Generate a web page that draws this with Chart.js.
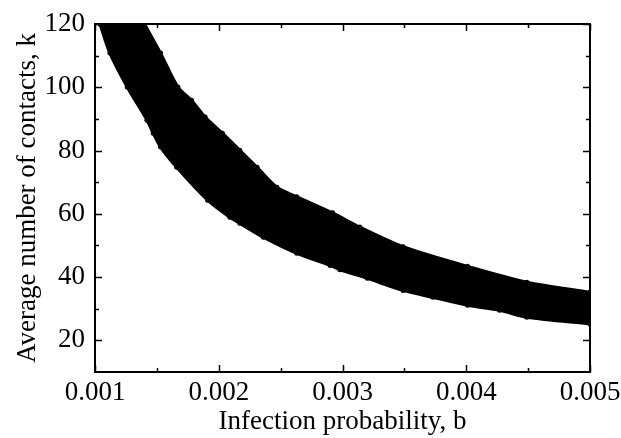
<!DOCTYPE html>
<html lang="en">
<head>
    <meta charset="UTF-8">
    <title>Average number of contacts vs infection probability</title>
    <style>
        body {
            margin: 0;
            padding: 0;
            background: #fff;
        }
        #wrap {
            width: 621px;
            height: 438px;
        }
    </style>
</head>
<body>
    <div id="wrap">
        <canvas id="bandChart" width="621" height="438"></canvas>
    </div>

    <script src="https://cdn.jsdelivr.net/npm/chart.js"></script>
    <script>
        // Upper edge of the point cloud
        const upperB = [0.00140, 0.00153, 0.00167, 0.00178, 0.00189, 0.00203, 0.00217, 0.00231, 0.00247, 0.00263, 0.00292, 0.00314, 0.00349, 0.00401, 0.00449, 0.00500];
        const upperK = [120, 110.8, 100.1, 95.9, 90.6, 85.5, 80.1, 74.7, 68.4, 65.4, 60.3, 55.8, 49.6, 43.4, 38.4, 35.2];

        // Lower edge of the point cloud
        const lowerB = [0.00104, 0.00112, 0.00126, 0.00142, 0.00147, 0.00153, 0.00166, 0.00191, 0.00209, 0.00217, 0.00236, 0.00263, 0.00290, 0.00298, 0.00320, 0.00349, 0.00373, 0.00401, 0.00427, 0.00449, 0.00500];
        const lowerK = [120, 110.8, 100.1, 89.6, 85.5, 81.1, 74.7, 64.3, 58.9, 57.0, 52.6, 47.5, 43.7, 42.3, 39.6, 35.8, 33.6, 31.1, 29.5, 27.3, 25.2];

        // Axis ticks
        const xTicks = [0.001, 0.002, 0.003, 0.004, 0.005];
        const xMinor = [0.0015, 0.0025, 0.0035, 0.0045];
        const yTicks = [20, 40, 60, 80, 100, 120];
        const yMinor = [30, 50, 70, 90, 110];

        const FONT = '"Liberation Serif", "Times New Roman", serif';

        // outline of the band: upper edge left->right, lower edge right->left
        // (end points repeated so the smoothed outline keeps square corners)
        const outline = [];
        const addPt = (b, k, times) => { for (let n = 0; n < times; n++) outline.push({ x: b, y: k }); };
        for (let i = 0; i < upperB.length; i++) {
            addPt(upperB[i], upperK[i], (i === 0 || i === upperB.length - 1) ? 2 : 1);
        }
        for (let i = lowerB.length - 1; i >= 0; i--) {
            addPt(lowerB[i], lowerK[i], (i === 0 || i === lowerB.length - 1) ? 2 : 1);
        }

        // frame with inward ticks on all four sides
        const framePlugin = {
            id: 'frame',
            afterDraw(chart) {
                const { ctx, chartArea: a, scales } = chart;
                const xs = scales.x, ys = scales.y;
                ctx.save();
                ctx.strokeStyle = '#000';
                ctx.lineWidth = 2;
                ctx.strokeRect(a.left, a.top, a.right - a.left, a.bottom - a.top);
                ctx.beginPath();
                const tickX = (v, len) => {
                    const p = Math.round(xs.getPixelForValue(v)) + 0.5;
                    ctx.moveTo(p, a.bottom); ctx.lineTo(p, a.bottom - len);
                    ctx.moveTo(p, a.top); ctx.lineTo(p, a.top + len);
                };
                const tickY = (v, len) => {
                    const p = Math.round(ys.getPixelForValue(v)) + 0.5;
                    ctx.moveTo(a.left, p); ctx.lineTo(a.left + len, p);
                    ctx.moveTo(a.right, p); ctx.lineTo(a.right - len, p);
                };
                xTicks.forEach(v => tickX(v, 7));
                xMinor.forEach(v => tickX(v, 4));
                yTicks.forEach(v => tickY(v, 7));
                yMinor.forEach(v => tickY(v, 4));
                ctx.lineWidth = 1.5;
                ctx.stroke();
                ctx.restore();
            }
        };

        const ctx = document.getElementById('bandChart').getContext('2d');
        new Chart(ctx, {
            type: 'scatter',
            data: {
                datasets: [{
                    label: 'k vs b',
                    data: outline,
                    showLine: true,
                    fill: 'shape',
                    backgroundColor: '#000',
                    borderColor: '#000',
                    borderWidth: 3,
                    tension: 0.3,
                    pointRadius: 2.5,
                    pointBackgroundColor: '#000',
                    pointBorderWidth: 0
                }]
            },
            options: {
                responsive: false,
                animation: false,
                layout: {
                    padding: { left: 0, right: 31, top: 24, bottom: 0 }
                },
                plugins: {
                    legend: { display: false },
                    tooltip: { enabled: false }
                },
                scales: {
                    x: {
                        type: 'linear',
                        min: 0.001,
                        max: 0.005,
                        grid: { display: false, drawTicks: false },
                        border: { display: false },
                        afterBuildTicks: s => { s.ticks = xTicks.map(v => ({ value: v })); },
                        afterFit: s => { s.height = 66; s.paddingLeft = 0; s.paddingRight = 0; },
                        ticks: {
                            color: '#000',
                            padding: 5,
                            maxRotation: 0,
                            autoSkip: false,
                            font: { family: FONT, size: 27 },
                            callback: v => v.toFixed(3)
                        },
                        title: {
                            display: true,
                            text: 'Infection probability, b',
                            color: '#000',
                            padding: { top: 0, bottom: 0 },
                            font: { family: FONT, size: 27 }
                        }
                    },
                    y: {
                        min: 10,
                        max: 120,
                        grid: { display: false, drawTicks: false },
                        border: { display: false },
                        afterBuildTicks: s => { s.ticks = yTicks.map(v => ({ value: v })); },
                        afterFit: s => { s.width = 95; s.paddingTop = 0; s.paddingBottom = 0; },
                        ticks: {
                            color: '#000',
                            padding: 10,
                            autoSkip: false,
                            font: { family: FONT, size: 27 }
                        },
                        title: {
                            display: true,
                            text: 'Average number of contacts, k',
                            color: '#000',
                            padding: { top: 12, bottom: 0 },
                            font: { family: FONT, size: 27 }
                        }
                    }
                }
            },
            plugins: [framePlugin]
        });
    </script>
</body>
</html>
